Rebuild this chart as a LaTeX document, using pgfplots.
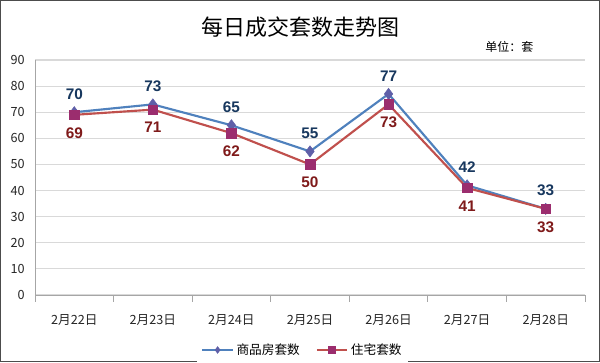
\documentclass[border=0pt]{standalone}
\usepackage{pgfplots}
\pgfplotsset{compat=1.18}
\usepackage{fontspec}
\setmainfont{Liberation Sans}
\newfontfamily\cjk{Noto Sans CJK SC}
\definecolor{bline}{HTML}{4F81BD}
\definecolor{bmark}{HTML}{5F5FA8}
\definecolor{rline}{HTML}{C0504D}
\definecolor{rmark}{HTML}{9B2D6E}
\definecolor{blab}{HTML}{17375E}
\definecolor{rlab}{HTML}{7F1A1A}
\begin{document}
\begin{tikzpicture}
\fill[white] (0,0) rectangle (450pt,271.5pt);
\draw[gray!60!black, line width=0.9pt] (0.45pt,0.45pt) rectangle (449.55pt,271.05pt);
\node[font=\cjk\fontsize{16.5}{18}\selectfont] at (225pt,251pt) {每日成交套数走势图};
\node[font=\cjk\fontsize{9}{10}\selectfont] at (382pt,236pt) {单位：套};
\begin{axis}[
  at={(26.25pt,50.25pt)}, anchor=south west,
  scale only axis, width=412.5pt, height=176.25pt,
  xmin=-0.5, xmax=6.5, ymin=0, ymax=90,
  ytick={0,10,...,90},
  xtick={0,...,6},
  xticklabels={2月22日,2月23日,2月24日,2月25日,2月26日,2月27日,2月28日},
  minor xtick={-0.5,0.5,...,6.5},
  major x tick style={draw=none},
  minor x tick style={gray!70, line width=0.6pt},
  minor tick length=5pt,
  tick align=outside,
  ytick style={draw=none},
  axis x line*=bottom, axis y line*=left,
  axis line style={-, gray!70, line width=0.7pt},
  ymajorgrids, grid style={gray!30, line width=0.8pt},
  ticklabel style={font=\cjk\fontsize{9.5}{11}\selectfont, text=black!85},
  xticklabel style={yshift=-7pt},
  /pgf/number format/assume math mode=true,
  legend style={at={(0.487,-0.234)}, anchor=center, draw=none, legend columns=2,
    font=\cjk\fontsize{9.5}{11}\selectfont, /tikz/every even column/.append style={column sep=10pt}},
  legend image code/.code={\draw[mark repeat=2, mark phase=2, mark size=2.5pt, #1] plot coordinates {(0cm,0cm) (0.4cm,0cm) (0.8cm,0cm)};},
  clip=false,
]
\addplot[color=bline, line width=1.6pt, mark=diamond*, mark size=4.2pt,
  mark options={fill=bmark, draw=bmark, line width=0.4pt},
  nodes near coords, every node near coord/.append style={font=\bfseries\fontsize{11.5}{13}\selectfont, text=blab, yshift=6pt}]
  coordinates {(0,70) (1,73) (2,65) (3,55) (4,77) (5,42) (6,33)};
\addlegendentry{商品房套数}
\addplot[color=rline, line width=1.6pt, mark=square*, mark size=3.6pt,
  mark options={fill=rmark, draw=rmark, line width=0.4pt},
  nodes near coords, nodes near coords align={below},
  every node near coord/.append style={font=\bfseries\fontsize{11.5}{13}\selectfont, text=rlab, yshift=-6pt}]
  coordinates {(0,69) (1,71) (2,62) (3,50) (4,73) (5,41) (6,33)};
\addlegendentry{住宅套数}
\end{axis}
\end{tikzpicture}
\end{document}
